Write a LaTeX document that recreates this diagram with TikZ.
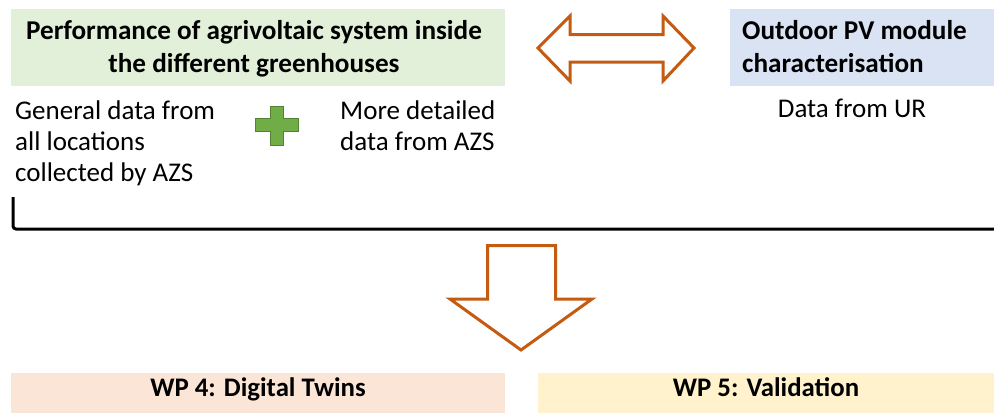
\documentclass[tikz,border=0pt]{standalone}
\usepackage{fontspec}
\setmainfont{Carlito}
\definecolor{boxgreen}{HTML}{E2F0D9}
\definecolor{boxblue}{HTML}{DAE3F3}
\definecolor{boxpeach}{HTML}{FBE5D6}
\definecolor{boxyellow}{HTML}{FFF2CC}
\definecolor{arroworange}{HTML}{C55A11}
\definecolor{plusfill}{HTML}{70AD47}
\definecolor{plusline}{HTML}{548235}
\tikzset{
  titletext/.style={font=\fontsize{27.2}{32}\selectfont\bfseries, inner sep=0pt},
  bodytext/.style={font=\fontsize{27}{32}\selectfont, inner sep=0pt},
  wptext/.style={font=\fontsize{26.8}{30}\selectfont\bfseries, inner sep=0pt},
  blockarrow/.style={draw=arroworange, fill=white, line width=3pt, line join=miter},
}
\begin{document}
\begin{tikzpicture}[x=1pt,y=-1pt]
\useasboundingbox (0,0) rectangle (994,413);
% header boxes
\fill[boxgreen] (11,9) rectangle (505,86);
\fill[boxblue] (730,9) rectangle (994,86);
\node[titletext, anchor=base] (t1) at (254,39) {Performance of agrivoltaic system inside};
\node[titletext, anchor=base] (t2) at (254,72) {the different greenhouses};
\node[titletext, anchor=base west] (o1) at (742,39) {Outdoor PV module};
\node[titletext, anchor=base west] (o2) at (742,72) {characterisation};
% body texts
\node[bodytext, anchor=base west] (g1) at (15,119) {General data from};
\node[bodytext, anchor=base west] (g2) at (15,150) {all locations};
\node[bodytext, anchor=base west] (g3) at (15,181) {collected by AZS};
\node[bodytext, anchor=base west] (m1) at (340,119) {More detailed};
\node[bodytext, anchor=base west] (m2) at (340,150) {data from AZS};
\node[bodytext, anchor=base] (ur) at (852,117) {Data from UR};
% plus sign
\draw[fill=plusfill, draw=plusline, line width=0.8pt]
  (270,106) -- (283,106) -- (283,118.5) -- (298,118.5) -- (298,131.5) -- (283,131.5)
  -- (283,145) -- (270,145) -- (270,131.5) -- (255,131.5) -- (255,118.5) -- (270,118.5) -- cycle;
% double arrow
\draw[blockarrow]
  (538,48) -- (570,16) -- (570,34.5) -- (663,34.5) -- (663,16) -- (694,48)
  -- (663,81) -- (663,62) -- (570,62) -- (570,81) -- cycle;
% bracket line
\coordinate (b1) at (13,197);
\coordinate (b2) at (994,229);
\draw[line width=3pt, rounded corners=3pt] (b1) |- (b2);
% down arrow
\draw[blockarrow]
  (487.5,245.5) -- (555.5,245.5) -- (555.5,299) -- (592,299) -- (521,350)
  -- (450,299) -- (487.5,299) -- cycle;
% bottom boxes
\fill[boxpeach] (11,373) rectangle (505,413);
\fill[boxyellow] (538,373) rectangle (994,413);
\node[wptext, anchor=base] (wp4) at (258,396) {WP 4: Digital Twins};
\node[wptext, anchor=base] (wp5) at (766,396) {WP 5: Validation};
\end{tikzpicture}
\end{document}
